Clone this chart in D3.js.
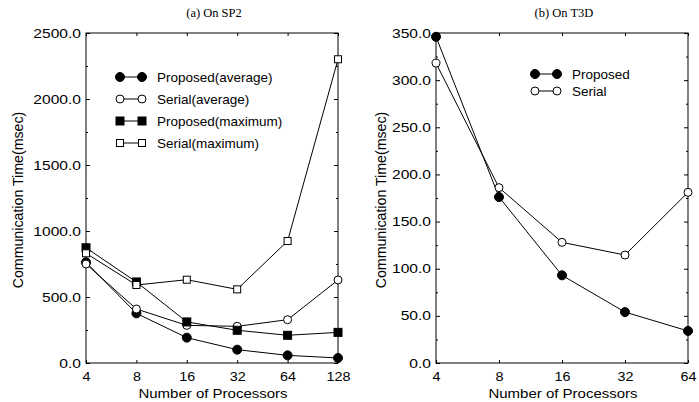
<!DOCTYPE html>
<html>
<head>
<meta charset="utf-8">
<script src="https://cdn.jsdelivr.net/npm/d3@7"></script>
<style>
  body { margin: 0; background: #fff; }
  svg { display: block; font-family: "Liberation Sans", Arial, sans-serif; }
  .title { font-family: "Liberation Serif", "Times New Roman", serif; font-size: 12.5px; }
</style>
</head>
<body>
<svg id="chart" width="699" height="402"></svg>
<script>
// panel (a) SP2
const procsA = [4, 8, 16, 32, 64, 128];
const propAvgA = [763, 376, 192, 101, 58, 38];
const serAvgA = [750, 409, 285, 278, 328, 629];
const propMaxA = [873, 614, 311, 248, 210, 232];
const serMaxA = [831, 591, 631, 558, 924, 2301];
const yTicksA = [0, 500, 1000, 1500, 2000, 2500];

// panel (b) T3D
const procsB = [4, 8, 16, 32, 64];
const propB = [346, 176, 93, 54, 34];
const serB = [318, 186, 128, 114.5, 181];
const yTicksB = [0, 50, 100, 150, 200, 250, 300, 350];

const svg = d3.select('#chart');

function marker(g, type, x, y) {
    if (type === 'fc' || type === 'oc') {
        g.append('circle').attr('cx', x).attr('cy', y).attr('r', type === 'fc' ? 4.5 : 4)
            .attr('fill', type === 'fc' ? '#000' : '#fff').attr('stroke', '#000').attr('stroke-width', 1);
    } else {
        const s = type === 'fs' ? 8 : 7;
        g.append('rect').attr('x', x - s / 2).attr('y', y - s / 2).attr('width', s).attr('height', s)
            .attr('fill', type === 'fs' ? '#000' : '#fff').attr('stroke', '#000').attr('stroke-width', 1);
    }
}

function panel(opt) {
    const g = svg.append('g');
    const x = d3.scalePoint().domain(opt.procs).range([opt.left, opt.right]);
    const y = d3.scaleLinear().domain([0, opt.ymax]).range([opt.bottom, opt.top]);
    const fmt = d3.format('.1f');

    // frame
    g.append('rect').attr('x', opt.left).attr('y', opt.top)
        .attr('width', opt.right - opt.left).attr('height', opt.bottom - opt.top)
        .attr('fill', 'none').attr('stroke', '#000').attr('stroke-width', 1);

    const axB = g.append('g').attr('transform', `translate(0,${opt.bottom})`)
        .call(d3.axisBottom(x).tickSizeInner(-3).tickSizeOuter(0).tickPadding(9.5));
    g.append('g').attr('transform', `translate(0,${opt.top})`)
        .call(d3.axisTop(x).tickSizeInner(-3).tickSizeOuter(0).tickFormat(''));
    const axL = g.append('g').attr('transform', `translate(${opt.left},0)`)
        .call(d3.axisLeft(y).tickValues(opt.yTicks).tickFormat(fmt).tickSizeInner(-4).tickSizeOuter(0).tickPadding(4));
    g.append('g').attr('transform', `translate(${opt.right},0)`)
        .call(d3.axisRight(y).tickValues(opt.yTicks).tickFormat('').tickSizeInner(-4).tickSizeOuter(0));
    const half = d3.range(opt.yStep / 2, opt.ymax, opt.yStep);
    g.append('g').attr('transform', `translate(${opt.left},0)`)
        .call(d3.axisLeft(y).tickValues(half).tickFormat('').tickSizeInner(-2).tickSizeOuter(0));
    g.append('g').attr('transform', `translate(${opt.right},0)`)
        .call(d3.axisRight(y).tickValues(half).tickFormat('').tickSizeInner(-2).tickSizeOuter(0));
    g.selectAll('.domain').remove();
    g.selectAll('.tick text').attr('font-size', 12.5).attr('font-family', '"Liberation Sans", Arial, sans-serif').attr('fill', '#000');
    axB.selectAll('.tick text').attr('transform', 'scale(1.15,1)');
    axL.selectAll('.tick text').attr('transform', 'scale(1.25,1)');

    const line = d3.line().x((d, i) => x(opt.procs[i])).y(d => y(d));
    opt.series.forEach(s => {
        g.append('path').datum(s.values).attr('d', line)
            .attr('fill', 'none').attr('stroke', '#000').attr('stroke-width', 1);
    });
    opt.series.forEach(s => {
        s.values.forEach((v, i) => marker(g, s.type, x(opt.procs[i]), y(v)));
    });

    // legend
    opt.series.forEach((s, i) => {
        const ly = opt.legY + i * opt.legGap;
        g.append('line').attr('x1', opt.legX).attr('x2', opt.legX + 22).attr('y1', ly).attr('y2', ly)
            .attr('stroke', '#000');
        marker(g, s.type, opt.legX, ly);
        marker(g, s.type, opt.legX + 22, ly);
        g.append('text').attr('x', opt.legX + 37).attr('y', ly + 5).attr('font-size', 13.5).text(s.name);
    });

    g.append('text').attr('class', 'title').attr('x', (opt.left + opt.right) / 2 + 2).attr('y', 17)
        .attr('text-anchor', 'middle').text(opt.title);
    g.append('text').attr('transform', `translate(${(opt.left + opt.right) / 2 + 1},397.5) scale(1.2,1)`)
        .attr('text-anchor', 'middle').attr('font-size', 12.5).text('Number of Processors');
    g.append('text').attr('transform', `translate(${opt.ylabX},${(opt.top + opt.bottom) / 2 + 2}) rotate(-90)`)
        .attr('text-anchor', 'middle').attr('font-size', 14.2).text('Communication Time(msec)');
}

panel({
    procs: procsA, ymax: 2500, yStep: 500, yTicks: yTicksA,
    left: 86, right: 338, top: 33, bottom: 363,
    title: '(a) On SP2', ylabX: 23,
    legX: 120, legY: 77, legGap: 22,
    series: [
        { name: 'Proposed(average)', type: 'fc', values: propAvgA },
        { name: 'Serial(average)', type: 'oc', values: serAvgA },
        { name: 'Proposed(maximum)', type: 'fs', values: propMaxA },
        { name: 'Serial(maximum)', type: 'os', values: serMaxA }
    ]
});

panel({
    procs: procsB, ymax: 350, yStep: 50, yTicks: yTicksB,
    left: 436, right: 688, top: 33, bottom: 363,
    title: '(b) On T3D', ylabX: 386,
    legX: 535, legY: 74, legGap: 17,
    series: [
        { name: 'Proposed', type: 'fc', values: propB },
        { name: 'Serial', type: 'oc', values: serB }
    ]
});
</script>
</body>
</html>
